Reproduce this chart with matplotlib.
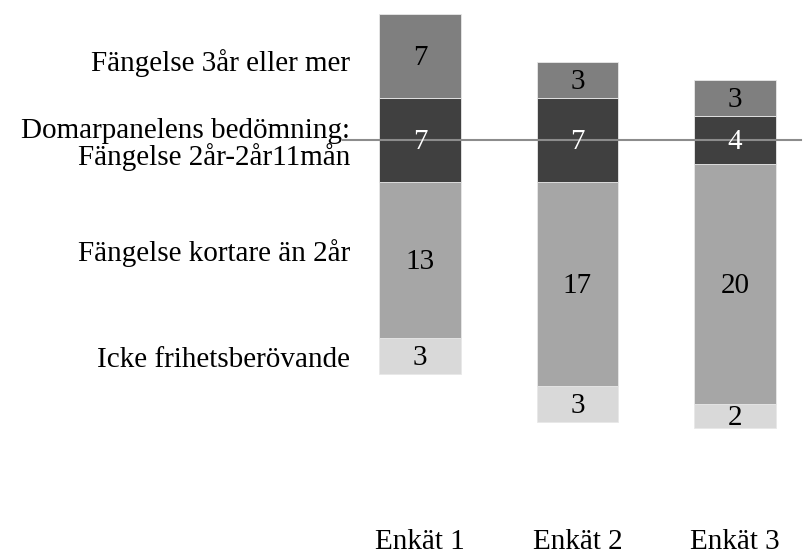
import numpy as np
import matplotlib
matplotlib.use("Agg")
import matplotlib.pyplot as plt

plt.rcParams["font.family"] = ["Liberation Serif", "DejaVu Serif"]

surveys = ["Enkät 1", "Enkät 2", "Enkät 3"]
# stacked from bottom to top
icke = [3, 3, 2]
kortare = [13, 17, 20]
panel = [7, 7, 4]      # Fängelse 2år-2år11mån (the panel's judgement)
langre = [7, 3, 3]     # Fängelse 3år eller mer

series = [
    ("Icke frihetsberövande", icke, "#d9d9d9", "black"),
    ("Fängelse kortare än 2år", kortare, "#a6a6a6", "black"),
    ("Fängelse 2år-2år11mån", panel, "#404040", "white"),
    ("Fängelse 3år eller mer", langre, "#7f7f7f", "black"),
]

FS = 21

fig = plt.figure(figsize=(8.04, 5.55), dpi=100)
ax = fig.add_axes([0, 0, 1, 1])

x = np.arange(len(surveys))
# centre every bar on the middle of the panel's category
base = -(np.array(icke) + np.array(kortare) + np.array(panel) / 2.0)
bottom = base.copy()
for name, vals, col, tcol in series:
    vals = np.array(vals, dtype=float)
    ax.bar(x, vals, 0.52, bottom=bottom, color=col, edgecolor="#e8e8e8",
           linewidth=0.6, zorder=2)
    for xi, b, v in zip(x, bottom, vals):
        ax.text(xi, b + v / 2 - 0.15, f"{int(v)}", ha="center", va="center",
                fontsize=FS, color=tcol, zorder=4)
    bottom = bottom + vals

ax.plot([-0.49, 2.42], [0, 0], color="#8c8c8c", lw=1.5, zorder=3)

# category labels on the left
lx = -0.445
ax.text(lx, 6.4, "Fängelse 3år eller mer", ha="right", va="center", fontsize=FS)
ax.text(lx, 0.15, "Domarpanelens bedömning:", ha="right", va="baseline", fontsize=FS)
ax.text(lx, -2.1, "Fängelse 2år-2år11mån", ha="right", va="baseline", fontsize=FS)
ax.text(lx, -9.4, "Fängelse kortare än 2år", ha="right", va="center", fontsize=FS)
ax.text(lx, -18.3, "Icke frihetsberövande", ha="right", va="center", fontsize=FS)

for xi, s in zip(x, surveys):
    ax.text(xi, -34.1, s, ha="center", va="baseline", fontsize=FS)

ax.set_xlim(-420 / 157.5, (804 - 420) / 157.5)
ax.set_ylim(-(555 - 140) / 12, 140 / 12)
ax.axis("off")

fig.savefig("out.png", dpi=100)
